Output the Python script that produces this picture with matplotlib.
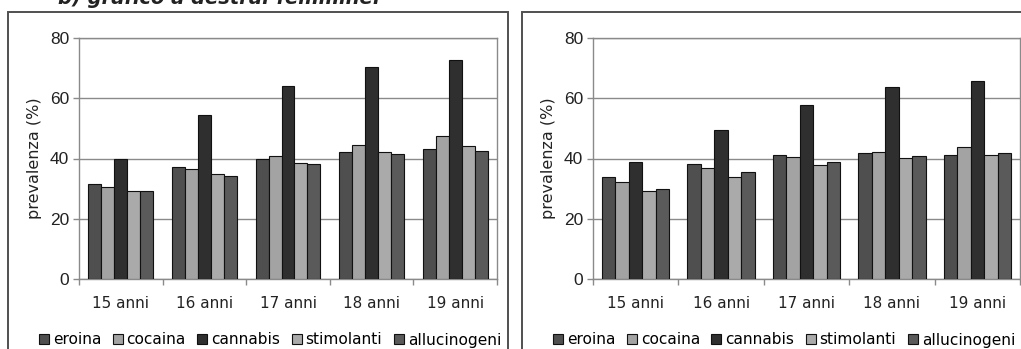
import matplotlib
matplotlib.use("Agg")
import matplotlib.pyplot as plt
from matplotlib.patches import Rectangle, Patch
import numpy as np

# Age classes and substances
categories = ["15 anni", "16 anni", "17 anni", "18 anni", "19 anni"]
substances = ["eroina", "cocaina", "cannabis", "stimolanti", "allucinogeni"]

# Prevalence (%) — left chart
left_eroina = [31.6, 37.3, 39.8, 42.3, 43.0]
left_cocaina = [30.5, 36.6, 40.9, 44.6, 47.6]
left_cannabis = [40.0, 54.5, 64.0, 70.4, 72.6]
left_stimolanti = [29.1, 34.8, 38.6, 42.3, 44.3]
left_allucinogeni = [29.1, 34.3, 38.1, 41.4, 42.4]

# Prevalence (%) — right chart
right_eroina = [34.0, 38.3, 41.0, 41.7, 41.2]
right_cocaina = [32.1, 36.7, 40.6, 42.1, 43.7]
right_cannabis = [38.8, 49.6, 57.9, 63.7, 65.6]
right_stimolanti = [29.2, 34.0, 37.8, 40.3, 41.2]
right_allucinogeni = [29.8, 35.6, 38.8, 40.8, 41.8]

y_ticks = [0, 20, 40, 60, 80]

colors = ["#4f4f4f", "#a3a3a3", "#2f2f2f", "#aaaaaa", "#5a5a5a"]
grid_gray = "#8a8a8a"

W, H = 1021, 349
fig = plt.figure(figsize=(W / 100, H / 100), dpi=100)
fig.patch.set_facecolor("white")


def fx(px):
    return px / W


def fy(py):
    return 1 - py / H


def panel(rect, series, bar_w):
    ax = fig.add_axes(rect)
    x = np.arange(len(categories))
    for k, vals in enumerate(series):
        ax.bar(x + (k - 2) * bar_w, vals, width=bar_w, color=colors[k],
               edgecolor="#111111", linewidth=0.8, zorder=3)
    ax.set_xlim(-0.5, len(categories) - 0.5)
    ax.set_ylim(0, 80)
    ax.set_yticks(y_ticks)
    ax.set_yticklabels([str(t) for t in y_ticks], fontfamily="Liberation Sans",
                       fontsize=12.5, color="#222222")
    ax.yaxis.grid(True, color=grid_gray, linewidth=1.0, zorder=1)
    ax.set_axisbelow(True)
    ax.set_xticks(x)
    ax.set_xticklabels(categories, fontfamily="DejaVu Sans", fontsize=11,
                       color="#222222")
    ax.set_xticks(np.arange(len(categories) + 1) - 0.5, minor=True)
    ax.tick_params(axis="x", which="major", length=0, pad=12)
    ax.tick_params(axis="x", which="minor", length=4, width=1, color=grid_gray)
    ax.tick_params(axis="y", length=4, width=1, color=grid_gray, pad=3)
    for s in ax.spines.values():
        s.set_color(grid_gray)
        s.set_linewidth(1.0)
    ax.set_ylabel("prevalenza (%)", fontfamily="DejaVu Sans", fontsize=11.5,
                  color="#222222", labelpad=6)
    return ax


left_series = [left_eroina, left_cocaina, left_cannabis, left_stimolanti,
               left_allucinogeni]
right_series = [right_eroina, right_cocaina, right_cannabis, right_stimolanti,
                right_allucinogeni]

ax1 = panel([fx(79), fy(279), fx(497 - 79), (279 - 38) / H], left_series, 0.155)
ax2 = panel([fx(593), fy(279), fx(1020 - 593), (279 - 38) / H], right_series, 0.158)

# Outer frames around each chart
for x0, x1 in [(8, 508), (522, 1030)]:
    fig.patches.append(Rectangle((fx(x0), fy(360)), fx(x1 - x0), (360 - 12) / H,
                                 transform=fig.transFigure, fill=False,
                                 edgecolor="#505050", linewidth=1.4))

handles = [Patch(facecolor=c, edgecolor="#111111", linewidth=0.8) for c in colors]
for cx in [270, 784]:
    fig.legend(handles, substances, loc="center", bbox_to_anchor=(fx(cx), fy(340)),
               ncol=5, frameon=False, prop={"family": "DejaVu Sans", "size": 11.1},
               handlelength=0.65, handleheight=0.65, handletextpad=0.25,
               columnspacing=0.75, borderaxespad=0, borderpad=0)

# Caption line above the charts
fig.text(fx(58), fy(4), "b) grafico a destra: femmine:", fontsize=14,
         fontweight="bold", fontstyle="italic", fontfamily="DejaVu Sans",
         va="baseline", ha="left", color="#222222")

fig.savefig("out.png", dpi=100, facecolor="white")
